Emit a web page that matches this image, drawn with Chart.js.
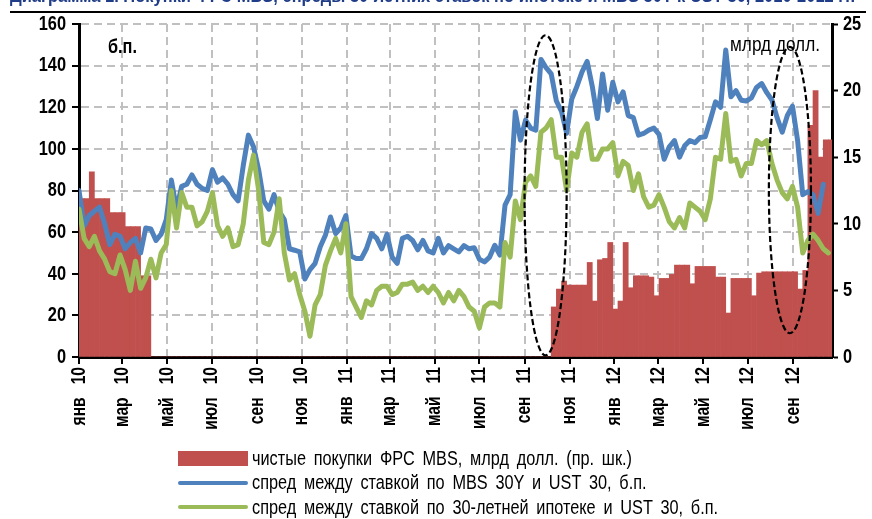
<!DOCTYPE html>
<html>
<head>
<meta charset="utf-8">
<script src="https://cdn.jsdelivr.net/npm/chart.js@4.4.1/dist/chart.umd.min.js"></script>
<style>
  html, body { margin:0; padding:0; background:#fff; }
  body { width:872px; height:519px; overflow:hidden; position:relative;
         font-family:"Liberation Sans",Arial,sans-serif; }
  #cv { position:absolute; left:0; top:0; }
  #title { position:absolute; left:10px; top:-13px; white-space:nowrap; font-weight:bold;
           font-size:18px; line-height:18px; color:#1F3C88; transform-origin:0 0; }
  #rule { position:absolute; left:10px; top:11px; width:856px; height:2px; background:#000; }
  .note { position:absolute; font-size:21px; line-height:21px; color:#000; white-space:nowrap;
          transform-origin:0 0; }
  #legend { position:absolute; left:178px; top:446px; }
  .row { height:24.5px; display:flex; align-items:center; font-size:20px; color:#000;
         white-space:nowrap; }
  .sw { display:inline-block; width:70px; margin-right:4px; flex:none; }
  .sw.box { height:15px; }
  .sw.line { height:4px; border-radius:2px; }
  .lt { display:inline-block; transform-origin:0 50%; word-spacing:4px; }
</style>
</head>
<body>
<canvas id="cv" width="872" height="519"></canvas>
<div id="title">Диаграмма 1. Покупки ФРС MBS, спреды 30-летних ставок по ипотеке и MBS 30Y к UST 30, 2010-2012 гг.</div>
<div id="rule"></div>
<div class="note" id="noteLeft" style="left:108px;top:35px;font-weight:bold;">б.п.</div>
<div class="note" id="noteRight" style="left:730px;top:33px;">млрд долл.</div>
<div id="legend"></div>
<script>
// ---------- data (weekly observations starting 2010-01-01) ----------
const startDate = '2010-01-01';

const monthTickDates = ['2010-01-01','2010-03-01','2010-05-01','2010-07-01','2010-09-01','2010-11-01',
  '2011-01-01','2011-03-01','2011-05-01','2011-07-01','2011-09-01','2011-11-01',
  '2012-01-01','2012-03-01','2012-05-01','2012-07-01','2012-09-01'];
const monthTickLabels = ['янв   10','мар   10','май   10','июл   10','сен   10','ноя   10',
  'янв   11','мар   11','май   11','июл   11','сен   11','ноя   11',
  'янв   12','мар   12','май   12','июл   12','сен   12'];

const seriesNames = [
  'чистые покупки ФРС MBS, млрд долл. (пр. шк.)',
  'спред между ставкой по MBS 30Y и UST 30, б.п.',
  'спред между ставкой по 30-летней ипотеке и UST 30, б.п.'
];

// net Fed MBS purchases, bn USD (right axis)
const fedPurchases = [
  11.9,11.9,13.9,11.9,11.9,11.9,10.85,10.85,10.85,9.8,9.8,9.8,6.1,6.1,
  0,0,0,0,0,0,0,0,0,0,0,0,0,
  0,0,0,0,0,0,0,0,0,0,0,0,0,
  0,0,0,0,0,0,0,0,0,0,0,0,0,
  0,0,0,0,0,0,0,0,0,0,0,0,0,
  0,0,0,0,0,0,0,0,0,0,0,0,0,
  0,0,0,0,0,0,0,0,0,0,0,0,0,
  3.76,5.1,5.7,5.4,5.4,5.4,5.4,7.1,4.2,7.3,7.4,8.6,3.6,4.2,8.6,5.2,
  6.1,6.1,6.1,6.0,4.6,5.9,5.9,6.2,6.9,6.9,6.9,5.5,6.8,6.8,6.8,6.8,
  6.0,6.0,3.3,5.9,5.9,5.9,5.9,4.6,6.3,6.4,6.4,6.4,6.4,6.4,6.4,6.4,
  5.1,6.5,17.4,20.0,15.0,16.3,16.3
];

// MBS 30Y – UST 30 spread, bp (left axis)
const mbsSpread = [
  80,63,68,70,72,64,54,59,58,52,
  55,57,50,62,61.5,56,59,66,85,71,
  82,83,87.5,83,81,80,90,84,86,83,
  78,75,92,106.6,101,90,75,71,78,70,
  66,52,51.3,50.5,37.5,42,45,53,58.5,67.3,
  59.3,62,68,48.5,47.3,47.3,52,59.3,57,52,
  59,48,45,57,58,56,51.5,56,51,50,
  57,50,53.5,52,50.5,53.5,52,52.5,47,45.7,
  48,53.7,49,73,78,117.8,104.2,113.8,110,109,
  143,139,136,123,118,107.5,124,130,137,142,
  130,114.6,136,118.6,132,122.6,127.4,116,115,106.6,
  107.4,109,110,107,95,101,104,96,101.5,104,
  103,105.5,105.8,114,122.6,120,147.5,125,128,123.4,
  123,124.5,129.5,131.4,127,123.5,115,108,116,120.5,
  104,78,79.5,78,69,83
];

// 30-year mortgage rate – UST 30 spread, bp (left axis)
const mortgageSpread = [
  71,57,53,58,51,47,41,40,49,42,
  32,46,33,38,47,38,50,54,80,62,
  79,72,72,63,65,70,79,63,58,62,
  53,54,64,85,97,80,55,54,60,76,
  50,37,40,30,22,10,25,30,44,51,
  57,50,64,29,24,19,27,25,32,34,
  34,30,31,35,35,36,32,34,31,34,
  31,26,31,27,32,29,24,22,14,24,
  26,26,24,55,48,75,66,84,87,82,
  108,110,114,96,96,80,98,96,108,112,
  95,95,100,100,103,87,94,92,80,88,
  77,72,73,78,72,65,62,67,62,74,
  72,70,66,76,96,95,117,94,95,87,
  93,93,104,102,104,93,85,79,76,82,
  72,50,56,59,56,52,50
];

// dashed highlight ovals (in week / bp units)
const highlightOvals = [
  { centerWeek: 90.9, halfWidthWeeks: 4.1, top: 154.6, bottom: 0.8 },
  { centerWeek: 138.5, halfWidthWeeks: 4.1, top: 149, bottom: 11.4 }
];

// ---------- rendering ----------
const FONT = '"Liberation Sans",Arial,sans-serif';
const COLORS = { bar:'#C0504D', blue:'#4F81BD', green:'#9BBB59', grid:'#C0C0C0' };
const TEXT_SQUEEZE = 0.78;   // condensed look for canvas tick labels
const DAY = 86400000;
const t0 = Date.parse(startDate);
const monthTickWeeks = monthTickDates.map(d => (Date.parse(d) - t0) / (7 * DAY));

Chart.defaults.font.family = FONT;
Chart.defaults.color = '#000';

// narrow the canvas text horizontally (still drawn as real text)
const canvas = document.getElementById('cv');
const c2d = canvas.getContext('2d');
const nativeFill = c2d.fillText.bind(c2d);
c2d.fillText = function (text, x, y, maxWidth) {
  this.save();
  this.translate(x, y);
  this.scale(TEXT_SQUEEZE, 1);
  if (maxWidth === undefined || maxWidth === null) nativeFill(text, 0, 0);
  else nativeFill(text, 0, 0, maxWidth / TEXT_SQUEEZE);
  this.restore();
};

const ovalPlugin = {
  id: 'ovals',
  afterDatasetsDraw(chart) {
    const { ctx, scales: { x, y } } = chart;
    ctx.save();
    ctx.setLineDash([6, 3]);
    ctx.lineWidth = 2.2;
    ctx.strokeStyle = '#000';
    highlightOvals.forEach(o => {
      const cx = x.getPixelForValue(o.centerWeek);
      const rx = x.getPixelForValue(o.centerWeek + o.halfWidthWeeks) - cx;
      const yt = y.getPixelForValue(o.top), yb = y.getPixelForValue(o.bottom);
      ctx.beginPath();
      ctx.ellipse(cx, (yt + yb) / 2, rx, (yb - yt) / 2, 0, 0, Math.PI * 2);
      ctx.stroke();
    });
    ctx.restore();
  }
};

const chart = new Chart(canvas, {
  data: {
    datasets: [
      { type:'line', label: seriesNames[2], order:1, yAxisID:'y',
        data: mortgageSpread.map((v, i) => ({ x: i, y: v })),
        borderColor: COLORS.green, borderWidth: 5, pointRadius: 0, tension: 0,
        borderJoinStyle:'round', borderCapStyle:'round' },
      { type:'line', label: seriesNames[1], order:2, yAxisID:'y',
        data: mbsSpread.map((v, i) => ({ x: i, y: v })),
        borderColor: COLORS.blue, borderWidth: 5, pointRadius: 0, tension: 0,
        borderJoinStyle:'round', borderCapStyle:'round' },
      { type:'bar', label: seriesNames[0], order:3, yAxisID:'y2',
        data: fedPurchases.map((v, i) => ({ x: i + 0.5, y: v })),
        backgroundColor: COLORS.bar, borderWidth: 0,
        barPercentage: 1, categoryPercentage: 1 }
    ]
  },
  options: {
    responsive: false, animation: false, devicePixelRatio: 1,
    layout: { padding: { top: 24, right: 0, left: 0, bottom: 0 } },
    plugins: { legend: { display:false }, tooltip: { enabled:false } },
    scales: {
      x: {
        type:'linear', min: 0, max: 146.7, offset: false,
        afterBuildTicks: s => { s.ticks = monthTickWeeks.map(v => ({ value: v })); },
        afterFit: s => { s.height = 162; },
        ticks: { autoSkip:false, minRotation:90, maxRotation:90, padding:3,
                 font:{ size:20, weight:'bold' }, color:'#000',
                 callback: (v, i) => monthTickLabels[i] },
        grid: { offset:false, color: COLORS.grid, lineWidth: 2, tickColor:'#000', tickLength:7, tickWidth:2 },
        border: { color:'#000', width:3, dash:[8,5] }
      },
      y: {
        position:'left', min:0, max:160,
        afterFit: s => { s.width = 79; },
        ticks: { stepSize:20, font:{ size:21, weight:'bold' }, color:'#000', padding:6 },
        grid: { color: COLORS.grid, lineWidth: 2, tickColor:'#000', tickLength:7, tickWidth:2 },
        border: { color:'#000', width:3, dash:[8,5] }
      },
      y2: {
        position:'right', min:0, max:25,
        afterFit: s => { s.width = 40; },
        ticks: { stepSize:5, font:{ size:21, weight:'bold' }, color:'#000', padding:5 },
        grid: { drawOnChartArea:false, tickColor:'#000', tickLength:6, tickWidth:2 },
        border: { color:'#000', width:3 }
      }
    }
  },
  plugins: [ovalPlugin]
});

// HTML legend built from the chart's datasets
const legend = document.getElementById('legend');
const texts = [];
[2, 1, 0].forEach(idx => {
  const ds = chart.data.datasets[idx];
  const row = document.createElement('div');
  row.className = 'row';
  const sw = document.createElement('span');
  if (ds.type === 'bar') { sw.className = 'sw box'; sw.style.background = ds.backgroundColor; }
  else { sw.className = 'sw line'; sw.style.background = ds.borderColor; }
  const tx = document.createElement('span');
  tx.className = 'lt';
  tx.textContent = ds.label;
  row.appendChild(sw); row.appendChild(tx);
  legend.appendChild(row);
  texts.push(tx);
});
// condense text so it spans the same widths as in the original
function fitWidth(el, target, origin) {
  const w = el.getBoundingClientRect().width;
  el.style.transformOrigin = origin;
  el.style.transform = 'scaleX(' + (target / w) + ')';
  return target / w;
}
const k = 380 / texts[0].getBoundingClientRect().width;
texts.forEach(t => { t.style.transform = 'scaleX(' + k + ')'; });
fitWidth(document.getElementById('title'), 845, '0 0');
fitWidth(document.getElementById('noteLeft'), 29, '0 0');
fitWidth(document.getElementById('noteRight'), 90, '0 0');
</script>
</body>
</html>
